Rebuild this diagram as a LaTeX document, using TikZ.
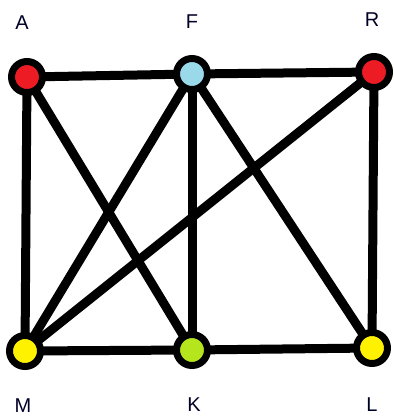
\documentclass[tikz,border=0pt]{standalone}
\usepackage{fontspec}
\setmainfont{Liberation Sans}
\usetikzlibrary{backgrounds}
\definecolor{pred}{HTML}{ED1C24}
\definecolor{pblue}{HTML}{99D9EA}
\definecolor{pyellow}{HTML}{FFF200}
\definecolor{pgreen}{HTML}{B5E61D}
\tikzset{
  vert/.style={circle, draw=black, line width=7pt, minimum size=31pt, inner sep=0pt},
  edge/.style={draw=black, line width=9pt},
  lab/.style={font=\fontsize{20}{20}\selectfont, text=black!85!blue, inner sep=0pt}
}
\begin{document}
\begin{tikzpicture}[x=1pt,y=-1pt]
\useasboundingbox (0,0) rectangle (394,416);
\node[vert, fill=pred] (A) at (27,77) {};
\node[vert, fill=pblue] (F) at (192,74) {};
\node[vert, fill=pred] (R) at (374,72) {};
\node[vert, fill=pyellow] (M) at (25,351) {};
\node[vert, fill=pgreen] (K) at (192,350) {};
\node[vert, fill=pyellow] (L) at (372,348) {};
\begin{scope}[on background layer]
\foreach \a/\b in {A/F,F/R,A/M,A/K,F/M,F/K,F/L,R/M,R/L,M/K,K/L}
  \draw[edge] (\a.center) -- (\b.center);
\end{scope}
\node[lab] (lA) at (22,23) {A};
\node[lab] (lF) at (192,22) {F};
\node[lab] (lR) at (372,20) {R};
\node[lab] (lM) at (23,406) {M};
\node[lab] (lK) at (194,405) {K};
\node[lab] (lL) at (372,405) {L};
\end{tikzpicture}
\end{document}
